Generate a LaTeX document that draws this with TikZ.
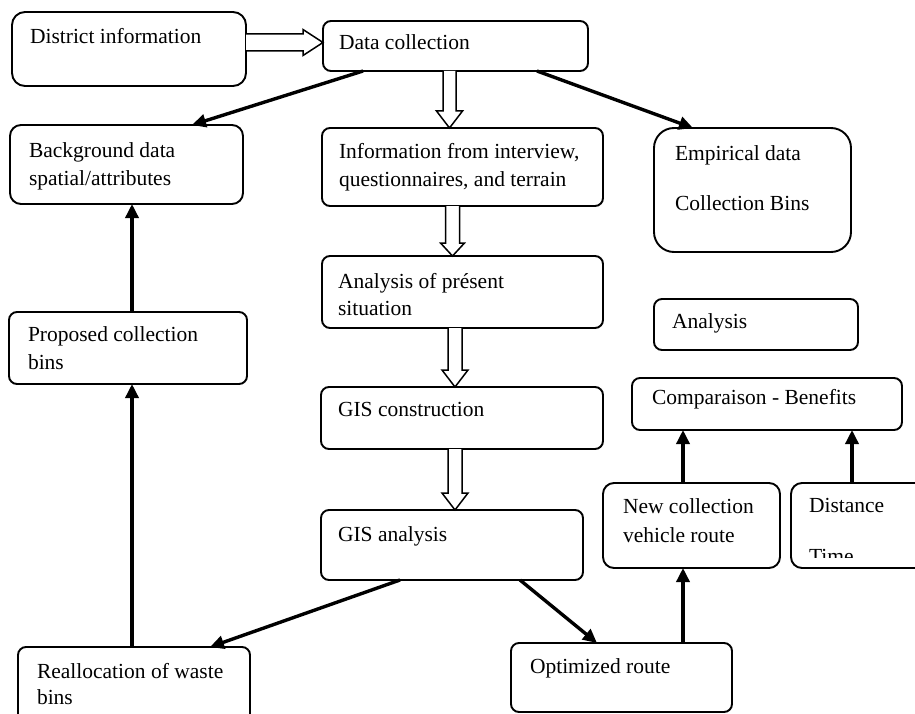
\documentclass[tikz,border=0pt]{standalone}
\usepackage{fontspec}
\setmainfont{Liberation Serif}
\usetikzlibrary{arrows.meta,calc}
\tikzset{
  box/.style={draw=black, line width=1.9bp, rounded corners=8bp, fill=white,
    inner sep=0pt, outer sep=0pt, anchor=north west},
  lbl/.style={anchor=base west, inner sep=0pt, outer sep=0pt,
    font=\fontsize{21.5bp}{27bp}\selectfont},
  solidarrow/.style={draw=black, line width=3.4bp, -{Triangle[length=14bp,width=13bp]}},
  hollow/.style={draw=black, line width=1.5bp, fill=white, line join=miter},
}
% vertical hollow arrow: #1 from anchor, #2 to anchor, #3 x-coordinate name,
% #4 shaft width, #5 head width, #6 head length
\newcommand\myVarrow[6]{%
  \filldraw[hollow]
    ($(#1 -| #3)+(-#4/2,0)$) -- ($(#2 -| #3)+(-#4/2,-#6)$) --
    ($(#2 -| #3)+(-#5/2,-#6)$) -- (#2 -| #3) --
    ($(#2 -| #3)+(#5/2,-#6)$) -- ($(#2 -| #3)+(#4/2,-#6)$) --
    ($(#1 -| #3)+(#4/2,0)$);}
\begin{document}
\begin{tikzpicture}[x=1bp,y=-1bp]
\useasboundingbox (0,0) rectangle (915,714);

% boxes
\node[box, rounded corners=13bp, minimum width=234bp, minimum height=74bp] (district) at (12,12) {};
\node[box, minimum width=265bp, minimum height=50bp] (dc) at (323,21) {};
\node[box, rounded corners=11bp, minimum width=233bp, minimum height=79bp] (bg) at (10,125) {};
\node[box, minimum width=281bp, minimum height=78bp] (info) at (322,128) {};
\node[box, rounded corners=20bp, minimum width=197bp, minimum height=124bp] (emp) at (654,128) {};
\node[box, minimum width=281bp, minimum height=72bp] (pres) at (322,256) {};
\node[box, minimum width=238bp, minimum height=72bp] (prop) at (9,312) {};
\node[box, minimum width=204bp, minimum height=51bp] (ana) at (654,299) {};
\node[box, minimum width=270bp, minimum height=52bp] (comp) at (632,378) {};
\node[box, minimum width=282bp, minimum height=62bp] (gisc) at (321,387) {};
\node[box, minimum width=262bp, minimum height=70bp] (gisa) at (321,510) {};
\node[box, rounded corners=11bp, minimum width=177bp, minimum height=85bp] (newc) at (603,483) {};
\node[box, rounded corners=11bp, minimum width=140bp, minimum height=85bp] (dist) at (791,483) {};
\node[box, minimum width=232bp, minimum height=80bp] (realloc) at (18,647) {};
\node[box, minimum width=221bp, minimum height=69bp] (opt) at (511,643) {};

% texts
\node[lbl] (t-district) at (30,44) {District information};
\node[lbl] (t-dc) at (339,50) {Data collection};
\node[lbl] (t-bg1) at (29,158) {Background data};
\node[lbl] (t-bg2) at (29,185) {spatial/attributes};
\node[lbl] (t-info1) at (339,159) {Information from interview,};
\node[lbl] (t-info2) at (339,186) {questionnaires, and terrain};
\node[lbl] (t-emp1) at (675,161) {Empirical data};
\node[lbl] (t-emp2) at (675,210) {Collection Bins};
\node[lbl] (t-pres1) at (338,288) {Analysis of présent};
\node[lbl] (t-pres2) at (338,315) {situation};
\node[lbl] (t-prop1) at (28,341) {Proposed collection};
\node[lbl] (t-prop2) at (28,369) {bins};
\node[lbl] (t-ana) at (672,328) {Analysis};
\node[lbl] (t-comp) at (652,404) {Comparaison - Benefits};
\node[lbl] (t-gisc) at (338,416) {GIS construction};
\node[lbl] (t-gisa) at (338,541) {GIS analysis};
\node[lbl] (t-newc1) at (623,513) {New collection};
\node[lbl] (t-newc2) at (623,542) {vehicle route};
\node[lbl] (t-dist) at (809,512) {Distance};
\begin{scope}
  \clip (792,530) rectangle (915,557);
  \node[lbl] (t-time) at (809,563) {Time};
\end{scope}
\node[lbl] (t-realloc1) at (37,678) {Reallocation of waste};
\node[lbl] (t-realloc2) at (37,704) {bins};
\node[lbl] (t-opt) at (530,673) {Optimized route};

% reference x positions for straight connectors
\coordinate (vx1) at (449.5,0);
\coordinate (vx2) at (452.5,0);
\coordinate (vx3) at (455,0);
\coordinate (lx) at (132,0);
\coordinate (rx1) at (683,0);
\coordinate (rx2) at (852,0);
\coordinate (hy) at (0,42.5);

% hollow arrows
\filldraw[hollow]
  ($(district.east |- hy)+(0,-8.5)$) -- ($(dc.west |- hy)+(-20,-8.5)$) --
  ($(dc.west |- hy)+(-20,-13)$) -- (dc.west |- hy) --
  ($(dc.west |- hy)+(-20,13)$) -- ($(dc.west |- hy)+(-20,8.5)$) --
  ($(district.east |- hy)+(0,8.5)$);
\myVarrow{dc.south}{info.north}{vx1}{13}{26}{17}
\myVarrow{info.south}{pres.north}{vx2}{14}{24}{13}
\myVarrow{pres.south}{gisc.north}{vx3}{14}{26}{17}
\myVarrow{gisc.south}{gisa.north}{vx3}{14}{26}{17}

% solid arrows
\draw[solidarrow] ($(dc.south west)+(40,0)$) -- ($(bg.north west)+(182,0)$);
\draw[solidarrow] ($(dc.south west)+(214,0)$) -- ($(emp.north west)+(39,0)$);
\draw[solidarrow] (prop.north -| lx) -- (bg.south -| lx);
\draw[solidarrow] (realloc.north -| lx) -- (prop.south -| lx);
\draw[solidarrow] ($(gisa.south west)+(79,0)$) -- ($(realloc.north west)+(192,0)$);
\draw[solidarrow] ($(gisa.south west)+(199,0)$) -- ($(opt.north west)+(86,0)$);
\draw[solidarrow] (opt.north -| rx1) -- (newc.south -| rx1);
\draw[solidarrow] (newc.north -| rx1) -- (comp.south -| rx1);
\draw[solidarrow] (dist.north -| rx2) -- (comp.south -| rx2);
\end{tikzpicture}
\end{document}
